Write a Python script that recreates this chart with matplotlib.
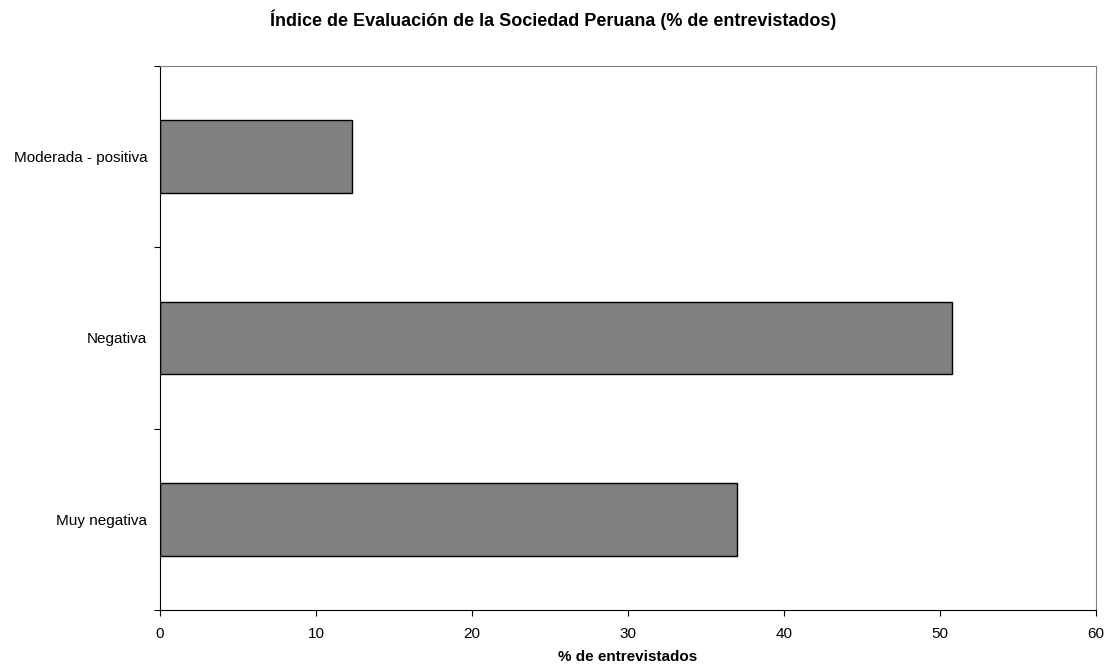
import numpy as np
import matplotlib.pyplot as plt

plt.rcParams['font.family'] = ['Liberation Sans', 'DejaVu Sans']

categorias = ["Muy negativa", "Negativa", "Moderada - positiva"]
valores = [37.0, 50.8, 12.3]
xticks = [0, 10, 20, 30, 40, 50, 60]

fig = plt.figure(figsize=(11.06, 6.65), dpi=100)
ax = fig.add_axes([160/1106, 55/665, 936/1106, 544/665])

pos = np.arange(len(categorias))
ax.barh(pos, valores, height=0.4, color="#808080", edgecolor="black", linewidth=1)

ax.set_xlim(0, 60)
ax.set_ylim(-0.5, len(categorias) - 0.5)
ax.set_xticks(xticks)
ax.set_xticklabels([str(t) for t in xticks], fontsize=11)

# ticks at the category boundaries, labels at the centres
ax.set_yticks(np.arange(-0.5, len(categorias), 1.0))
ax.set_yticklabels([])
ax.set_yticks(pos, minor=True)
ax.set_yticklabels(categorias, minor=True, fontsize=11)
ax.tick_params(axis="y", which="minor", length=0, pad=9)
ax.tick_params(axis="y", which="major", length=4, direction="out")
ax.tick_params(axis="x", length=4, direction="out", pad=8)

ax.spines["left"].set_color("black")
ax.spines["bottom"].set_color("black")
ax.spines["top"].set_color("#808080")
ax.spines["right"].set_color("#808080")

ax.set_xlabel("% de entrevistados", fontsize=11, fontweight="bold", labelpad=7)
fig.text(0.5, 1 - 20/665, "Índice de Evaluación de la Sociedad Peruana (% de entrevistados)",
         ha="center", va="center", fontsize=13, fontweight="bold")

fig.savefig("out.png", dpi=100)
